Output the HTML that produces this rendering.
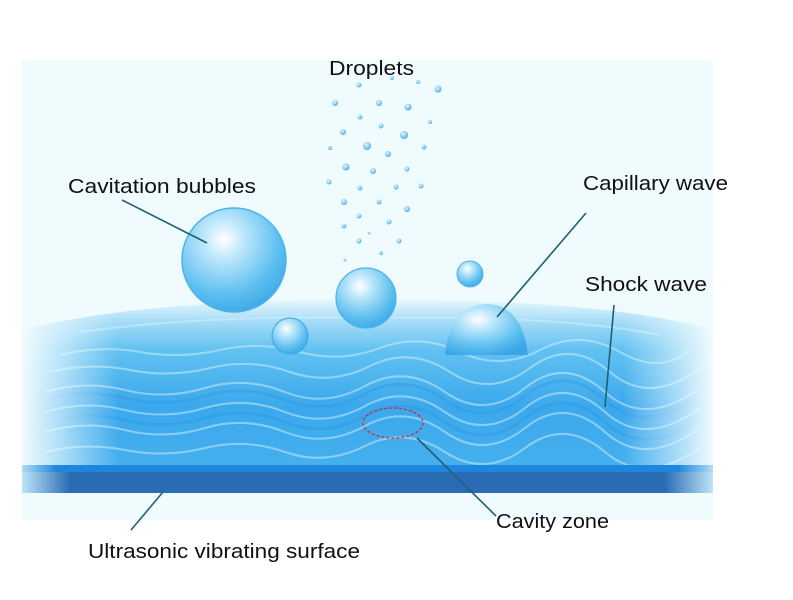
<!DOCTYPE html>
<html><head><meta charset="utf-8"><style>
html,body{margin:0;padding:0;background:#fff;}
svg{display:block;}
text{font-family:"Liberation Sans",sans-serif;font-size:20px;fill:#111;}
</style></head><body>
<svg width="793" height="600" viewBox="0 0 793 600" xmlns="http://www.w3.org/2000/svg">
<defs>
<linearGradient id="water" x1="0" y1="0" x2="0" y2="1">
<stop offset="0" stop-color="#e8f7fd"/>
<stop offset="0.12" stop-color="#a9def7"/>
<stop offset="0.3" stop-color="#62c1f1"/>
<stop offset="0.65" stop-color="#3aa8ec"/>
<stop offset="1" stop-color="#45b0ee"/>
</linearGradient>
<linearGradient id="fadeL" x1="0" y1="0" x2="1" y2="0">
<stop offset="0" stop-color="#f0fbfe" stop-opacity="1"/>
<stop offset="0.06" stop-color="#f0fbfe" stop-opacity="0.6"/>
<stop offset="0.14" stop-color="#f0fbfe" stop-opacity="0"/>
<stop offset="0.87" stop-color="#f0fbfe" stop-opacity="0"/>
<stop offset="0.95" stop-color="#f0fbfe" stop-opacity="0.6"/>
<stop offset="1" stop-color="#f0fbfe" stop-opacity="1"/>
</linearGradient>
<linearGradient id="bar" x1="0" y1="0" x2="1" y2="0">
<stop offset="0" stop-color="#bfe4f7"/>
<stop offset="0.07" stop-color="#2a6cb4"/>
<stop offset="0.93" stop-color="#2a6cb4"/>
<stop offset="1" stop-color="#bfe4f7"/>
</linearGradient>
<linearGradient id="bartop" x1="0" y1="0" x2="1" y2="0">
<stop offset="0" stop-color="#b0dcf5"/>
<stop offset="0.05" stop-color="#1e86dc"/>
<stop offset="0.95" stop-color="#1e86dc"/>
<stop offset="1" stop-color="#b0dcf5"/>
</linearGradient>
<radialGradient id="bub" cx="0.4" cy="0.3" r="0.75">
<stop offset="0" stop-color="#ffffff"/>
<stop offset="0.25" stop-color="#bfe8fb"/>
<stop offset="0.7" stop-color="#5fc0f0"/>
<stop offset="1" stop-color="#3aa6e6"/>
</radialGradient>
<radialGradient id="drop" cx="0.4" cy="0.35" r="0.7">
<stop offset="0" stop-color="#e8f8ff"/>
<stop offset="1" stop-color="#3fa9e8"/>
</radialGradient>
</defs>
<rect x="22" y="60" width="691" height="460" fill="#f0fbfe"/>
<path d="M22,330 Q150,298 370,300 Q600,298 713,330 L713,466 L22,466 Z" fill="url(#water)"/>
<g fill="none" stroke="#d6f1fd" stroke-width="2" opacity="0.5">
<path d="M60,355 Q100,345 140,352 T220,350 T300,352 T380,348 T460,352 T540,350 T620,352 T690,350"/>
<path d="M50,372 Q90,362 130,370 T210,368 T290,372 T370,366 T450,372 T530,368 T610,372 T700,368"/>
<path d="M45,392 Q85,380 125,390 T205,388 T285,392 T365,386 T445,392 T525,388 T605,392 T700,388"/>
<path d="M45,412 Q85,400 125,410 T205,408 T285,412 T365,406 T445,412 T525,408 T605,412 T700,408"/>
<path d="M45,432 Q85,420 125,430 T205,428 T285,432 T365,426 T445,432 T525,428 T605,432 T700,428"/>
<path d="M45,452 Q85,442 125,450 T205,448 T285,452 T365,446 T445,452 T525,448 T605,452 T700,448"/>
<path d="M80,332 Q200,315 370,318 Q560,315 660,335"/>
</g>
<g fill="none" stroke="#2a95e2" stroke-width="3" opacity="0.35">
<path d="M45,400 Q85,388 125,398 T205,396 T285,400 T365,394 T445,400 T525,396 T605,400 T700,396"/>
<path d="M45,422 Q85,410 125,420 T205,418 T285,422 T365,416 T445,422 T525,418 T605,422 T700,418"/>
</g>
<rect x="22" y="300" width="691" height="166" fill="url(#fadeL)"/>
<rect x="22" y="465" width="691" height="28" fill="url(#bar)"/>
<rect x="22" y="465" width="691" height="7" fill="url(#bartop)"/>
<circle cx="234" cy="260" r="52" fill="url(#bub)" stroke="#4db3ea" stroke-width="1.5"/>
<circle cx="366" cy="298" r="30" fill="url(#bub)" stroke="#4db3ea" stroke-width="1.2"/>
<circle cx="470" cy="274" r="13" fill="url(#bub)" stroke="#4db3ea"/>
<circle cx="290" cy="336" r="18" fill="url(#bub)" stroke="#3ba6e6"/>
<path d="M445,355 Q450,305 487,304 Q522,305 528,355 Z" fill="url(#bub)"/>
<g fill="url(#drop)">
<circle cx="359" cy="85" r="2.5"/><circle cx="392" cy="78" r="2"/><circle cx="418" cy="82" r="2"/><circle cx="438" cy="89" r="3.5"/>
<circle cx="335" cy="103" r="3"/><circle cx="379" cy="103" r="3"/><circle cx="408" cy="107" r="3.5"/><circle cx="360" cy="117" r="2.5"/>
<circle cx="381" cy="126" r="2.5"/><circle cx="430" cy="122" r="2"/><circle cx="343" cy="132" r="3"/><circle cx="404" cy="135" r="4"/>
<circle cx="330" cy="148" r="2"/><circle cx="367" cy="146" r="4"/><circle cx="388" cy="154" r="3"/><circle cx="424" cy="147" r="2.5"/>
<circle cx="346" cy="167" r="3.5"/><circle cx="373" cy="171" r="3"/><circle cx="407" cy="169" r="2.5"/><circle cx="329" cy="182" r="2.5"/>
<circle cx="360" cy="188" r="2.5"/><circle cx="396" cy="187" r="2.5"/><circle cx="421" cy="186" r="2.5"/><circle cx="344" cy="202" r="3"/>
<circle cx="379" cy="202" r="2.5"/><circle cx="407" cy="209" r="3"/><circle cx="359" cy="216" r="2.5"/><circle cx="389" cy="222" r="2.5"/>
<circle cx="344" cy="226" r="2.5"/><circle cx="369" cy="233" r="1.3"/><circle cx="359" cy="241" r="2.5"/><circle cx="399" cy="241" r="2.5"/>
<circle cx="381" cy="253" r="2"/><circle cx="345" cy="260" r="1.5"/>
</g>
<ellipse cx="393" cy="423" rx="30" ry="15" fill="none" stroke="#e0202a" stroke-width="1.2" stroke-dasharray="3,2"/>
<g stroke="#1f5f78" stroke-width="1.6" fill="none">
<line x1="122" y1="200" x2="207" y2="243"/>
<line x1="586" y1="213" x2="497" y2="317"/>
<line x1="614" y1="305" x2="605" y2="407"/>
<line x1="496" y1="516" x2="417" y2="438"/>
<line x1="131" y1="530" x2="163" y2="492"/>
</g>
<text x="329" y="75" textLength="85" lengthAdjust="spacingAndGlyphs">Droplets</text>
<text x="68" y="193" textLength="188" lengthAdjust="spacingAndGlyphs">Cavitation bubbles</text>
<text x="583" y="190" textLength="145" lengthAdjust="spacingAndGlyphs">Capillary wave</text>
<text x="585" y="291" textLength="122" lengthAdjust="spacingAndGlyphs">Shock  wave</text>
<text x="496" y="528" textLength="113" lengthAdjust="spacingAndGlyphs">Cavity zone</text>
<text x="88" y="558" textLength="272" lengthAdjust="spacingAndGlyphs">Ultrasonic vibrating surface</text>
</svg>
</body></html>
